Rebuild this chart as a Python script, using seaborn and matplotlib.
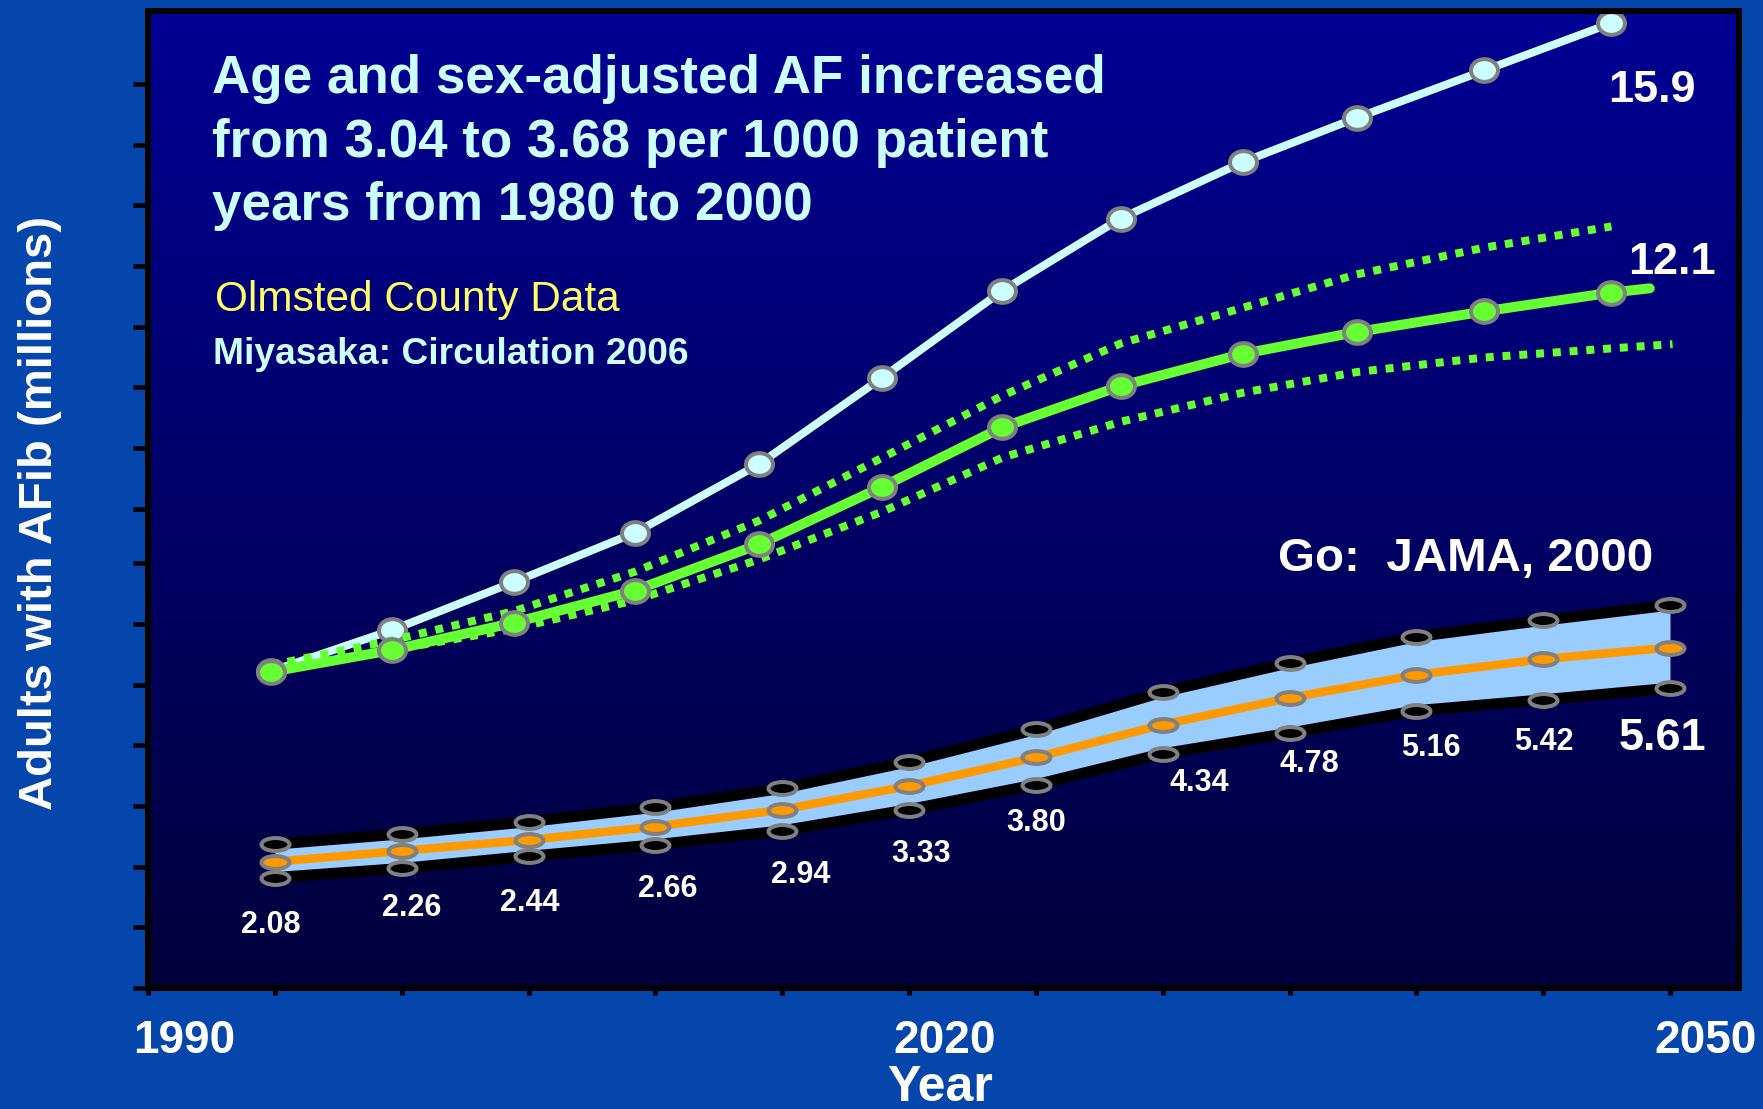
import numpy as np
import pandas as pd
import seaborn as sns
import matplotlib
matplotlib.use("Agg")
import matplotlib.pyplot as plt
from matplotlib.path import Path
from matplotlib.transforms import ScaledTranslation
from matplotlib.colors import LinearSegmentedColormap

# ---------------------------------------------------------------------------
# Data: adults with atrial fibrillation (millions)
# ---------------------------------------------------------------------------
# Go et al., JAMA: central projection with lower / upper bounds
go_years = [1995, 2000, 2005, 2010, 2015, 2020, 2025, 2030, 2035, 2040, 2045, 2050]
go_mid = [2.08, 2.26, 2.44, 2.66, 2.94, 3.33, 3.80, 4.34, 4.78, 5.16, 5.42, 5.61]
go_high = [2.37, 2.54, 2.74, 2.98, 3.29, 3.73, 4.26, 4.88, 5.36, 5.79, 6.06, 6.31]
go_low = [1.82, 1.97, 2.17, 2.36, 2.59, 2.94, 3.35, 3.86, 4.20, 4.57, 4.75, 4.94]

# Miyasaka, Circulation 2006 (Olmsted County): projections as plotted
miy_x = [1994.85, 1999.63, 2004.43, 2009.19, 2014.08, 2018.95,
         2023.68, 2028.34, 2033.16, 2037.65, 2042.68, 2047.69]
miy_rising = [5.22, 5.90, 6.69, 7.50, 8.63, 10.06, 11.49, 12.68, 13.61, 14.34, 15.12, 15.9]
miy_constant = [5.21, 5.57, 6.02, 6.55, 7.31, 8.26, 9.24, 9.92, 10.45, 10.81, 11.15, 11.46]
miy_constant_end = (2049.2, 11.53)
miy_ci_high = [5.32, 5.73, 6.21, 6.86, 7.70, 8.74, 9.76, 10.62, 11.21, 11.76, 12.20, 12.55]
miy_ci_low = [5.24, 5.57, 5.92, 6.39, 7.06, 7.85, 8.74, 9.33, 9.81, 10.15, 10.39, 10.54]
miy_ci_low_end = (2050.1, 10.61)
miy_constant_2050 = 12.1

x_ticks = list(range(1990, 2051, 5))
x_tick_labels = ["1990", "", "", "", "", "", "2020", "", "", "", "", "", "2050"]
y_ticks = [0, 1, 2, 3, 4, 5, 6, 7, 7.9, 8.9, 9.9, 10.9, 11.9, 12.9, 13.9, 14.9]

# value-label nudges (pixels) relative to each lower-bound point
label_nudge = [(-4, 55), (10, 48), (1, 55), (12, 52), (19, 52), (12, 52),
               (0, 46), (37, 37), (20, 39), (15, 45), (1, 50), (-8, 62)]

# ---------------------------------------------------------------------------
# Styling
# ---------------------------------------------------------------------------
sns.set_style("ticks")
plt.rcParams["font.family"] = ["Liberation Sans", "DejaVu Sans"]

W, H, DPI = 1763, 1109, 100
PT = 72 / DPI  # points per pixel

OUTER_BLUE = "#0446AC"
CYAN = "#CCFFFF"
GREEN = "#66FF33"
ORANGE = "#FF9900"
BAND = "#99CCFF"
EDGE = "#808080"
YELLOW = "#FFFF66"


def px(x, y):
    return x / W, 1 - y / H


def ellipse(ratio):
    c = Path.unit_circle()
    return Path(c.vertices * np.array([1.0, ratio]), c.codes)


band_marker = ellipse(0.46)
curve_marker = ellipse(0.84)

fig = plt.figure(figsize=(W / DPI, H / DPI), dpi=DPI, facecolor=OUTER_BLUE)
left, right, top, bottom = 148, 1739, 11, 988
ax = fig.add_axes([left / W, 1 - bottom / H, (right - left) / W, (bottom - top) / H])
ax.set_facecolor("#00005A")

# vertical gradient inside the plot area
grad = np.linspace(0, 1, 256).reshape(-1, 1)
bg_cmap = LinearSegmentedColormap.from_list("bg", ["#000094", "#00003C"])
ax.imshow(grad, extent=(0, 1, 0, 1), transform=ax.transAxes, aspect="auto",
          cmap=bg_cmap, origin="upper", zorder=0, interpolation="bilinear")

# ---- Go et al. band -------------------------------------------------------
go = pd.DataFrame({"year": go_years, "mid": go_mid, "high": go_high, "low": go_low})
ax.fill_between(go["year"], go["low"], go["high"], color=BAND, lw=0, zorder=2)
for col in ["high", "low"]:
    sns.lineplot(data=go, x="year", y=col, ax=ax, color="black", lw=11 * PT,
                 marker=band_marker, ms=28 * PT, mfc="black", mec=EDGE, mew=4 * PT,
                 estimator=None, errorbar=None, sort=False, zorder=3)
sns.lineplot(data=go, x="year", y="mid", ax=ax, color=ORANGE, lw=8.5 * PT,
             marker=band_marker, ms=28 * PT, mfc=ORANGE, mec=EDGE, mew=4 * PT,
             estimator=None, errorbar=None, sort=False, zorder=4)

# ---- Miyasaka projections -------------------------------------------------
rising = pd.DataFrame({"year": miy_x, "n": miy_rising})
sns.lineplot(data=rising, x="year", y="n", ax=ax, color=CYAN, lw=8 * PT,
             marker=curve_marker, ms=27 * PT, mfc=CYAN, mec=EDGE, mew=4 * PT,
             estimator=None, errorbar=None, sort=False, zorder=5, clip_on=False)

dot_style = (0, (1, 1.1))
ci_high = pd.DataFrame({"year": miy_x, "n": miy_ci_high})
ci_low = pd.DataFrame({"year": miy_x + [miy_ci_low_end[0]],
                       "n": miy_ci_low + [miy_ci_low_end[1]]})
for frame in (ci_high, ci_low):
    sns.lineplot(data=frame, x="year", y="n", ax=ax, color=GREEN, lw=8 * PT,
                 linestyle=dot_style, dash_capstyle="butt",
                 estimator=None, errorbar=None, sort=False, zorder=6)

const = pd.DataFrame({"year": miy_x + [miy_constant_end[0]],
                      "n": miy_constant + [miy_constant_end[1]]})
sns.lineplot(data=const, x="year", y="n", ax=ax, color=GREEN, lw=10 * PT,
             marker=curve_marker, ms=27 * PT, mfc=GREEN, mec=EDGE, mew=4 * PT,
             markevery=list(range(len(miy_x))),
             estimator=None, errorbar=None, sort=False, zorder=7)

# ---- value labels -----------------------------------------------------------
for i, (yr, lo, mid) in enumerate(zip(go_years, go_low, go_mid)):
    dx, dy = label_nudge[i]
    big = i == len(go_years) - 1
    ax.annotate(f"{mid:.2f}", xy=(yr, lo), xytext=(dx * PT, -dy * PT),
                textcoords="offset points", ha="center", va="baseline",
                color="white", fontweight="bold", fontsize=32.4 if big else 22,
                zorder=8)

ax.annotate(f"{miy_rising[-1]:.1f}", xy=(miy_x[-1], miy_rising[-1]),
            xytext=(40 * PT, -79 * PT), textcoords="offset points",
            ha="center", va="baseline", color="white", fontweight="bold",
            fontsize=32.4, zorder=8)
ax.annotate(f"{miy_constant_2050:.1f}", xy=miy_constant_end,
            xytext=(22 * PT, 14 * PT), textcoords="offset points",
            ha="center", va="baseline", color="white", fontweight="bold",
            fontsize=32.4, zorder=8)

# ---- annotation text ------------------------------------------------------
for y, line in zip([93, 156.7, 220.3],
                   ["Age and sex-adjusted AF increased",
                    "from 3.04 to 3.68 per 1000 patient",
                    "years from 1980 to 2000"]):
    fig.text(*px(212, y), line, color=CYAN, fontsize=38.2, fontweight="bold",
             ha="left", va="baseline")
fig.text(*px(215, 310.5), "Olmsted County Data", color=YELLOW, fontsize=30.5,
         ha="left", va="baseline")
fig.text(*px(213, 364), "Miyasaka: Circulation 2006", color=CYAN, fontsize=26.7,
         fontweight="bold", ha="left", va="baseline")
fig.text(*px(1278, 571), "Go:  JAMA, 2000", color="white", fontsize=34.2,
         fontweight="bold", ha="left", va="baseline")

# ---- axes -----------------------------------------------------------------
ax.set_xlim(1990, 2052.72)
ax.set_ylim(0, 16.1)
ax.set_xticks(x_ticks)
ax.set_xticklabels(x_tick_labels)
ax.set_yticks(y_ticks)
ax.tick_params(axis="y", direction="out", length=15 * PT, width=4.5 * PT,
               color="black", labelleft=False)
ax.tick_params(axis="x", direction="out", length=7 * PT, width=5 * PT,
               color="black", pad=17, labelsize=33, labelcolor="white")
for lab in ax.get_xticklabels():
    lab.set_fontweight("bold")

for s in ax.spines.values():
    s.set_visible(True)
    s.set_color("black")
    s.set_linewidth(6 * PT)
    s.set_zorder(12)

ax.set_ylabel("Adults with AFib (millions)", color="white", fontsize=34,
              fontweight="bold", va="baseline")
ax.yaxis.set_label_coords((52 - left) / (right - left), (bottom - 513) / (bottom - top))
ax.set_xlabel("Year", color="white", fontsize=36, fontweight="bold", va="baseline")
ax.xaxis.set_label_coords((940 - left) / (right - left), (bottom - 1101) / (bottom - top))

fig.canvas.draw()
shift = ScaledTranslation(36 / DPI, 0, fig.dpi_scale_trans)
for lab in ax.get_xticklabels():
    lab.set_transform(lab.get_transform() + shift)

fig.savefig("out.png", dpi=DPI, facecolor=OUTER_BLUE)
